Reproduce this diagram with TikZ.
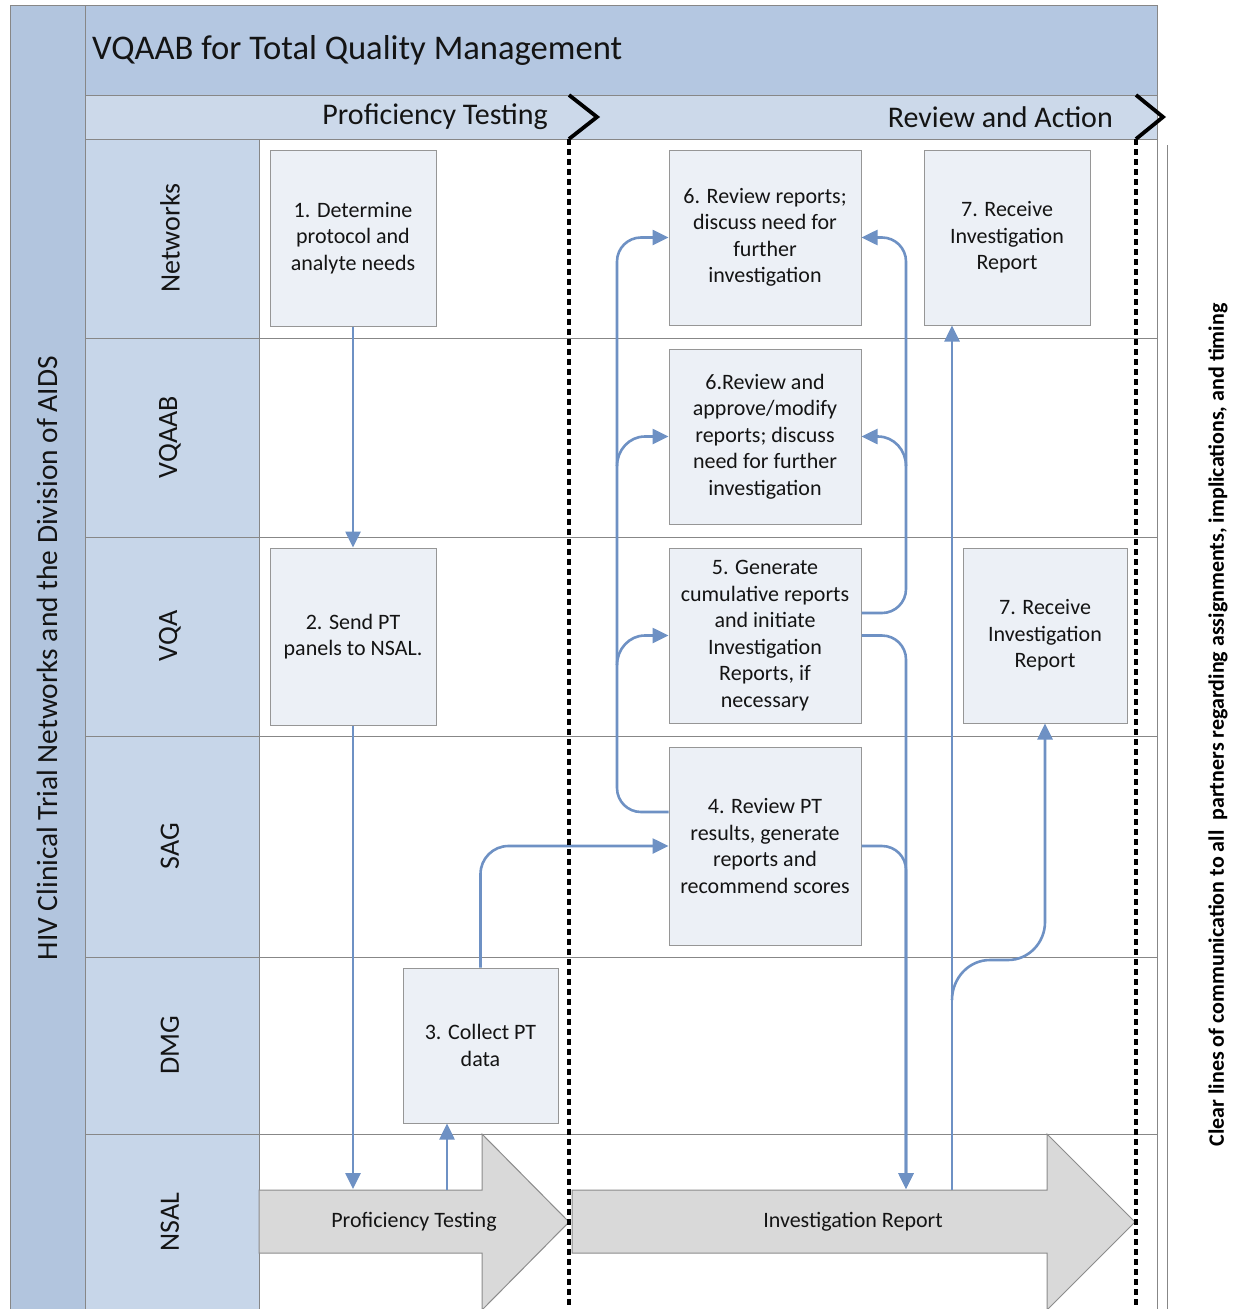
\documentclass[tikz,border=0pt]{standalone}
\usepackage{fontspec}
\setmainfont{Carlito}
\usetikzlibrary{arrows.meta}
\definecolor{outerband}{RGB}{178,197,222}
\definecolor{titleband}{RGB}{180,199,225}
\definecolor{phaseband}{RGB}{204,217,234}
\definecolor{laneband}{RGB}{199,214,233}
\definecolor{gridgray}{RGB}{135,135,135}
\definecolor{boxfill}{RGB}{236,240,246}
\definecolor{boxline}{RGB}{150,150,150}
\definecolor{flowblue}{RGB}{110,145,196}
\definecolor{bigfill}{RGB}{217,217,217}
\definecolor{bigline}{RGB}{140,140,140}
\definecolor{txt}{RGB}{20,20,20}
\tikzset{
  gridln/.style={draw=gridgray, line width=1},
  stepbox/.style={draw=boxline, line width=1, fill=boxfill, align=center, inner sep=0,
    text=txt, font=\fontsize{22}{26.5}\selectfont},
  flow/.style={draw=flowblue, line width=2.6, -{Triangle[length=16,width=15]}},
  phaseline/.style={draw=black, line width=3.8, dash pattern=on 6 off 4},
  chevron/.style={draw=black, line width=3.8, line join=miter, miter limit=3},
  lanelabel/.style={rotate=90, text=txt, font=\fontsize{28}{30}\selectfont},
  phaselabel/.style={anchor=east, inner sep=0, text=txt, font=\fontsize{30}{32}\selectfont},
  bigarrow/.style={draw=bigline, line width=1, fill=bigfill},
  biglabel/.style={text=txt, font=\fontsize{22}{24}\selectfont}
}
\begin{document}
\begin{tikzpicture}[x=1pt,y=-1pt]
\useasboundingbox (0,0) rectangle (1252,1309);
% bands
\fill[white] (0,0) rectangle (1252,1309);
\fill[outerband] (10,5) rectangle (85,1309);
\fill[titleband] (85,5) rectangle (1157,95);
\fill[phaseband] (85,95) rectangle (1157,139);
\fill[laneband] (85,139) rectangle (259,1309);
% grid lines
\draw[gridln] (10,1309) -- (10,5) -- (1157,5) -- (1157,1309);
\draw[gridln] (85,5) -- (85,1309);
\draw[gridln] (259,139) -- (259,1309);
\draw[gridln] (85,95) -- (1157,95);
\draw[gridln] (85,139) -- (1157,139);
\foreach \yy in {338,537,736,957,1134} \draw[gridln] (85,\yy) -- (1157,\yy);
\draw[gridln] (1167,145) -- (1167,1309);
% texts in bands
\node[anchor=west, inner sep=0, text=txt, font=\fontsize{34.6}{37}\selectfont] (title) at (92,50) {VQAAB for Total Quality Management};
\node[phaselabel] (ph1) at (548,117) {Proficiency Testing};
\node[phaselabel] (ph2) at (1113,117) {Review and Action};
\node[rotate=90, text=txt, font=\fontsize{29.4}{32}\selectfont] (side) at (47,658) {HIV Clinical Trial Networks and the Division of AIDS};
\node[lanelabel] (lnet) at (170,238) {Networks};
\node[lanelabel] (lvqaab) at (170,437) {VQAAB};
\node[lanelabel] (lvqa) at (170,636) {VQA};
\node[lanelabel] (lsag) at (170,846) {SAG};
\node[lanelabel] (ldmg) at (170,1045) {DMG};
\node[lanelabel] (lnsal) at (170,1222) {NSAL};
\node[rotate=90, text=black, font=\bfseries\fontsize{22}{24}\selectfont] (note) at (1218,725) {Clear lines of communication to all\ \ partners regarding assignments, implications, and timing};
% boxes
\node[stepbox, minimum width=166, minimum height=176] (b1) at (353,238) {1. Determine\\protocol and\\analyte needs};
\node[stepbox, minimum width=166, minimum height=177] (b2) at (353,636.5) {2. Send PT\\panels to NSAL.};
\node[stepbox, minimum width=155, minimum height=155] (b3) at (480.5,1045.5) {3. Collect PT\\data};
\node[stepbox, minimum width=192, minimum height=198] (b4) at (765,846) {4. Review PT\\results, generate\\reports and\\recommend scores};
\node[stepbox, minimum width=192, minimum height=175] (b5) at (765,635.5) {5. Generate\\cumulative reports\\and initiate\\Investigation\\Reports, if\\necessary};
\node[stepbox, minimum width=192, minimum height=175] (b6a) at (765,237.5) {6. Review reports;\\discuss need for\\further\\investigation};
\node[stepbox, minimum width=192, minimum height=175] (b6b) at (765,436.5) {6.Review and\\approve/modify\\reports; discuss\\need for further\\investigation};
\node[stepbox, minimum width=166, minimum height=175] (b7a) at (1007,237.5) {7. Receive\\Investigation\\Report};
\node[stepbox, minimum width=164, minimum height=175] (b7b) at (1045,635.5) {7. Receive\\Investigation\\Report};
% big arrows
\draw[bigarrow] (259,1190) -- (482,1190) -- (482,1134) -- (569,1222) -- (482,1310) -- (482,1253) -- (259,1253) -- cycle;
\draw[bigarrow] (572,1190) -- (1047,1190) -- (1047,1134) -- (1135,1222) -- (1047,1310) -- (1047,1253) -- (572,1253) -- cycle;
\node[biglabel] (ptl) at (414,1222) {Proficiency Testing};
\node[biglabel] (irl) at (853,1222) {Investigation Report};
\coordinate (ptA) at (353,1189);
\coordinate (ptB) at (447,1190);
\coordinate (irA) at (906,1189);
\coordinate (irB) at (952,1190);
\coordinate (lx) at (617,500);
\coordinate (rx) at (906,420);
% connectors
\draw[flow] (b1.south) -- (b2.north);
\draw[flow] (b2.south) -- (ptA);
\draw[flow] (ptB) -- (ptB |- b3.south);
\draw[flow, rounded corners=28] (b3.north) |- (b4.west);
\draw[flow, rounded corners=24] ([yshift=34pt]b4.west) -| (lx) |- (b6a.west);
\draw[flow] (617,466) to[out=90,in=180] (645,436.5) -- (b6b.west);
\draw[flow] (617,665) to[out=90,in=180] (645,635.5) -- (b5.west);
\draw[flow, rounded corners=24] ([yshift=22.5pt]b5.east) -| (rx) |- (b6a.east);
\draw[flow] (906,466) to[out=90,in=0] (878,436.5) -- (b6b.east);
\draw[flow, rounded corners=24] (b5.east) -| (irA);
\draw[flow, rounded corners=24] (b4.east) -| (irA);
\draw[flow] (irB) -- (irB |- b7a.south);
\draw[flow] (952,1000) to[out=90,in=180] (990,960) -- (1008,960) to[out=0,in=-90] (1045,922) -- (b7b.south);
% phase separators
\draw[chevron] (569,95) -- (597,117) -- (569,139);
\draw[phaseline] (569,139) -- (569,1309);
\draw[chevron] (1136,95) -- (1163,117) -- (1136,139);
\draw[phaseline] (1136,139) -- (1136,1309);
\end{tikzpicture}
\end{document}
